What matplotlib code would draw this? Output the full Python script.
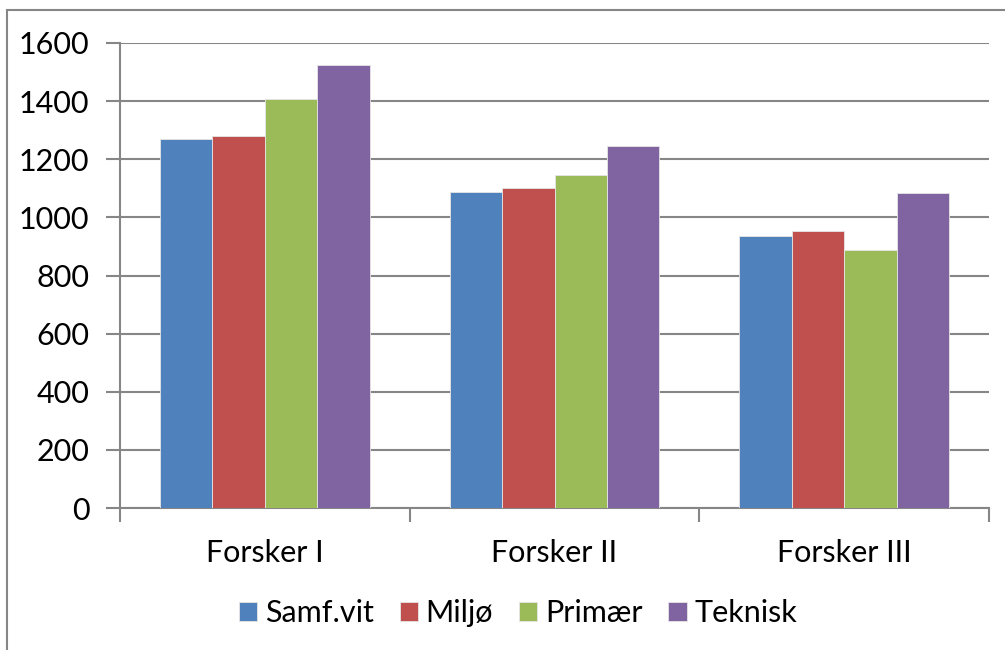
import numpy as np
import matplotlib.pyplot as plt
from matplotlib.patches import Rectangle

# data
categories = ['Forsker I', 'Forsker II', 'Forsker III']
series = ['Samf.vit', 'Miljø', 'Primær', 'Teknisk']
samf = [1270, 1087, 936]
miljo = [1281, 1101, 953]
primaer = [1408, 1146, 888]
teknisk = [1525, 1244, 1085]
colors = ['#4f81bd', '#c0504d', '#9bbb59', '#8064a2']

plt.rcParams['font.family'] = ['Lato', 'DejaVu Sans']

fig = plt.figure(figsize=(10.05, 6.5), dpi=100)
ax = fig.add_axes([120/1005, 1 - 508/650, 869/1005, 465/650])

# outer chart frame
fig.add_artist(Rectangle((7/1005, -0.5), 2, 1.5 - 10/650, transform=fig.transFigure,
                         fill=False, edgecolor='#868686', lw=1.5))

x = np.arange(len(categories))
w = 0.181
for i, (vals, c, name) in enumerate(zip([samf, miljo, primaer, teknisk], colors, series)):
    ax.bar(x + (i - 1.5) * w, vals, w, color=c, edgecolor='#e6e6e6', linewidth=0.6,
           label=name, zorder=3)

ax.set_xlim(-0.5, 2.5)
ax.set_ylim(0, 1600)
ax.set_yticks(range(0, 1601, 200))
ax.yaxis.grid(True, color='#868686', lw=1.5, zorder=0)
for s in ['top', 'right']:
    ax.spines[s].set_visible(False)
for s in ['left', 'bottom']:
    ax.spines[s].set_color('#868686')
    ax.spines[s].set_linewidth(1.5)

ax.set_xticks(x)
ax.set_xticklabels(categories)
ax.set_xticks([-0.5, 0.5, 1.5, 2.5], minor=True)
ax.tick_params(axis='x', which='major', length=0, pad=22, labelsize=22)
ax.tick_params(axis='x', which='minor', length=10, width=1.5, color='#868686')
ax.tick_params(axis='y', length=10, width=1.5, color='#868686', labelsize=22, pad=12)

ax.legend(loc='center', bbox_to_anchor=(518/1005, 1 - 613/650), bbox_transform=fig.transFigure,
          ncol=4, frameon=False, fontsize=22, handlelength=0.6, handleheight=0.6,
          handletextpad=0.25, columnspacing=0.85)

fig.savefig('out.png', dpi=100)
